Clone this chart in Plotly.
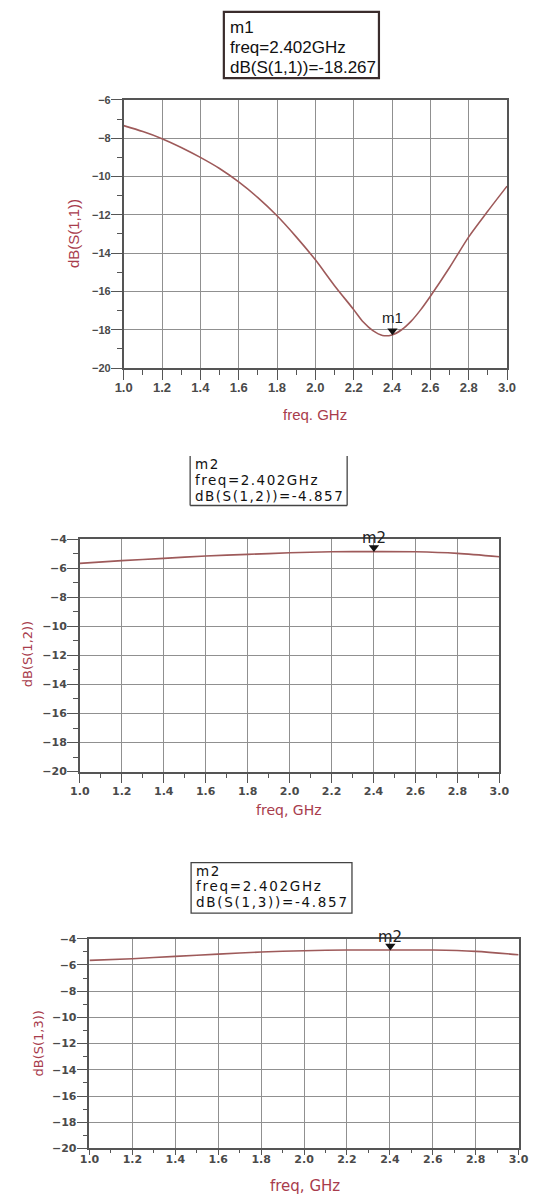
import plotly.graph_objects as go

W, H = 545, 1198

# ---------------- data ----------------
freq_s11 = [1.0, 1.1, 1.2, 1.3, 1.4, 1.5, 1.6, 1.7, 1.8, 1.9, 2.0, 2.1, 2.2,
            2.25, 2.3, 2.35, 2.4, 2.45, 2.5, 2.55, 2.6, 2.7, 2.8, 2.9, 3.0]
s11_db = [-7.34, -7.65, -8.02, -8.48, -9.0, -9.58, -10.28, -11.1, -12.05,
          -13.15, -14.35, -15.7, -16.95, -17.6, -18.05, -18.3, -18.27, -18.0,
          -17.55, -16.95, -16.25, -14.75, -13.15, -11.8, -10.5]

freq_s1n = [1.0, 1.2, 1.4, 1.6, 1.8, 2.0, 2.2, 2.4, 2.6, 2.8, 3.0]
s12_db = [-5.67, -5.48, -5.32, -5.16, -5.05, -4.94, -4.87, -4.857, -4.87, -4.98, -5.21]
s13_db = [-5.65, -5.52, -5.34, -5.17, -5.01, -4.91, -4.86, -4.857, -4.86, -4.96, -5.22]

marker_freq = 2.402
marker_names = ["m1", "m2", "m2"]
marker_vals = [-18.267, -4.857, -4.857]
marker_labels = [
    ["m1", "freq=2.402GHz", "dB(S(1,1))=-18.267"],
    ["m2", "freq=2.402GHz", "dB(S(1,2))=-4.857"],
    ["m2", "freq=2.402GHz", "dB(S(1,3))=-4.857"],
]
y_titles = ["dB(S(1,1))", "dB(S(1,2))", "dB(S(1,3))"]
x_titles = ["freq. GHz", "freq, GHz", "freq, GHz"]
y_ranges = [[-20, -6], [-20, -4], [-20, -4]]
x_range = [1.0, 3.0]

# ---------------- styling ----------------
LINE_C = "#9e5a5a"
TITLE_C = "#a83c4c"
TICK_C = "#4a4a4a"
GRID_C = "#909090"
FRAME_C = "#555555"


def px(x):
    return x / W


def py(y):
    return 1 - y / H


# plot area pixel boxes (left, right, top, bottom)
areas = [(118, 516, 95, 366), (72.5, 508, 539, 774), (82.5, 528, 943, 1155)]
fonts = ["Liberation Sans", "DejaVu Sans", "DejaVu Sans"]
xtick_sizes = [13, 11, 11]
ytick_sizes = [11, 11, 11]
x_standoff = [-3, -2, -5]
name_shift = [7, 3, 2]

fig = go.Figure()
series = [(freq_s11, s11_db), (freq_s1n, s12_db), (freq_s1n, s13_db)]
for i, (fx, fy) in enumerate(series):
    sfx = "" if i == 0 else str(i + 1)
    fig.add_trace(go.Scatter(
        x=fx, y=fy, mode="lines", xaxis="x" + sfx, yaxis="y" + sfx,
        line=dict(color=LINE_C, width=1.6, shape="spline", smoothing=0.8),
        showlegend=False, hoverinfo="skip"))
    # marker triangle pointing down, tip resting on the curve
    fig.add_trace(go.Scatter(
        x=[marker_freq], y=[marker_vals[i]], mode="markers",
        xaxis="x" + sfx, yaxis="y" + sfx,
        marker=dict(symbol="triangle-up", size=9, color="#111111",
                    angle=180, standoff=4, line=dict(width=0)),
        showlegend=False, hoverinfo="skip", cliponaxis=False))

layout = dict(width=W, height=H, margin=dict(l=0, r=0, t=0, b=0),
              paper_bgcolor="white", plot_bgcolor="white", showlegend=False)

annotations = []
shapes = []
for i, (l, r, t, b) in enumerate(areas):
    sfx = "" if i == 0 else str(i + 1)
    fam = fonts[i]
    layout["xaxis" + sfx] = dict(
        domain=[px(l), px(r)], anchor="y" + sfx, range=x_range,
        dtick=0.2, tick0=1.0, tickformat=".1f",
        showgrid=True, gridcolor=GRID_C, gridwidth=1.2,
        showline=True, mirror=True, linecolor=FRAME_C, linewidth=1.5,
        ticks="outside", ticklen=10 if i < 2 else 5, tickcolor=FRAME_C, tickwidth=1.2,
        ticklabelstandoff=x_standoff[i],
        tickfont=dict(family=fam, size=xtick_sizes[i], color=TICK_C, weight="bold"),
        minor=dict(ticks="outside", ticklen=5 if i < 2 else 3, dtick=0.1, tick0=1.0,
                   tickcolor=FRAME_C, tickwidth=1.2, showgrid=False),
        zeroline=False, fixedrange=True)
    layout["yaxis" + sfx] = dict(
        domain=[py(b), py(t)], anchor="x" + sfx, range=y_ranges[i],
        dtick=2, showgrid=True, gridcolor=GRID_C, gridwidth=1.2,
        showline=True, mirror=True, linecolor=FRAME_C, linewidth=1.5,
        ticks="outside", ticklen=11, tickcolor=FRAME_C, tickwidth=1.2,
        ticklabelstandoff=-2,
        tickfont=dict(family=fam, size=ytick_sizes[i], color=TICK_C, weight="bold"),
        minor=dict(ticks="outside", ticklen=5, dtick=1,
                   tickcolor=FRAME_C, tickwidth=1.2, showgrid=False),
        zeroline=False, fixedrange=True)

    annotations.append(dict(
        x=marker_freq, y=marker_vals[i], xref="x" + sfx, yref="y" + sfx,
        text=marker_names[i], showarrow=False, yanchor="bottom", yshift=name_shift[i],
        font=dict(family=fam, size=15, color="#222222")))

# axis titles
ytitle_pos = [(66, 230), (19, 655), (30, 1049)]
xtitle_pos = [(317, 413), (290, 813), (306, 1193)]
ytitle_sizes = [15, 13, 13]
xtitle_sizes = [15, 14, 15]
for i in range(3):
    annotations.append(dict(
        x=px(ytitle_pos[i][0]), y=py(ytitle_pos[i][1]), xref="paper", yref="paper",
        text=y_titles[i], textangle=-90, showarrow=False,
        xanchor="center", yanchor="middle",
        font=dict(family=fonts[i], size=ytitle_sizes[i], color=TITLE_C)))
    annotations.append(dict(
        x=px(xtitle_pos[i][0]), y=py(xtitle_pos[i][1]), xref="paper", yref="paper",
        text=x_titles[i], showarrow=False, xanchor="center", yanchor="middle",
        font=dict(family=fonts[i], size=xtitle_sizes[i], color=TITLE_C)))

# marker readout boxes
box_text_x = [226, 190, 191]
box_line_y = [[22, 41.5, 62], [463, 479, 495], [874, 890, 906]]
box_font = [("Liberation Sans", 17, 0), ("DejaVu Sans", 13.5, 1.5), ("DejaVu Sans", 13.5, 1.7)]
for i in range(3):
    fam, size, spacing = box_font[i]
    for j, line in enumerate(marker_labels[i]):
        txt = line if spacing == 0 else '<span style="letter-spacing:%.1fpx">%s</span>' % (spacing, line)
        annotations.append(dict(
            x=px(box_text_x[i]), y=py(box_line_y[i][j]), xref="paper", yref="paper",
            text=txt, showarrow=False, xanchor="left", yanchor="middle",
            font=dict(family=fam, size=size, color="#111111")))

shapes.append(dict(type="rect", xref="paper", yref="paper",
                   x0=px(222), x1=px(383), y0=py(73), y1=py(6),
                   line=dict(color="#3a2c2c", width=2.2)))
for (x0, y0, x1, y1) in [(187, 455, 187, 505), (187, 505, 350, 505), (350, 455, 350, 505)]:
    shapes.append(dict(type="line", xref="paper", yref="paper",
                       x0=px(x0), y0=py(y0), x1=px(x1), y1=py(y1),
                       line=dict(color="#444444", width=1.3)))
shapes.append(dict(type="rect", xref="paper", yref="paper",
                   x0=px(188), x1=px(355), y0=py(917), y1=py(866),
                   line=dict(color="#444444", width=1.3)))

layout["annotations"] = annotations
layout["shapes"] = shapes
fig.update_layout(**layout)

fig.write_html("out.html", config={"displayModeBar": False},
               post_script="document.body.style.margin='0';document.body.style.overflow='hidden';")
